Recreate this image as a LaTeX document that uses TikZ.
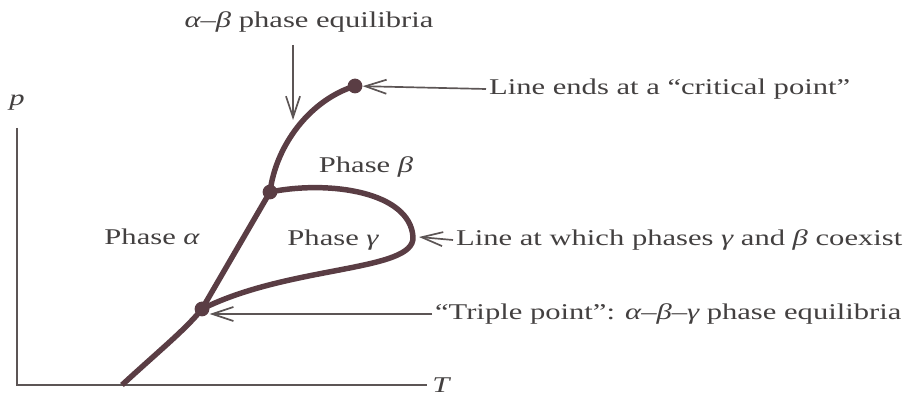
\documentclass[tikz,border=0pt]{standalone}
\usepackage{fontspec}
\setmainfont{Liberation Serif}[FakeStretch=1.36]
\usetikzlibrary{arrows.meta}
\definecolor{curvecol}{HTML}{5A3D44}
\definecolor{inkcol}{HTML}{434040}
\definecolor{thincol}{HTML}{5C5555}
\newcommand{\gr}[1]{{\itshape #1}}
\begin{document}
\begin{tikzpicture}[x=0.025cm,y=-0.025cm,
	lbl/.style={text=inkcol,inner sep=2pt,font=\fontsize{16}{19}\selectfont},
	axis/.style={thincol,line width=1.2pt},
	ptr/.style={thincol,line width=1.2pt,-{Straight Barb[length=15pt,width=10pt]}},
	phaseline/.style={curvecol,line width=3.9pt,line join=round},
	dot/.style={circle,fill=curvecol,inner sep=0pt,minimum size=0.37cm}]
	\useasboundingbox (0,0) rectangle (915,398);
	
	% axes
	\coordinate (origin) at (17,385);
	\coordinate (ptop) at (17,128);
	\coordinate (tend) at (427,385);
	\draw[axis] (ptop)--(origin)--(tend);
	\node[lbl] (plbl) at (17,103) {\itshape p};
	\node[lbl] (tlbl) at (441,385) {\itshape T};
	
	% phase lines
	\coordinate (foot) at (122,385);
	\node[dot] (triple) at (202,309) {};
	\node[dot] (junc) at (270,192) {};
	\node[dot] (crit) at (355,86) {};
	\coordinate (loopright) at (413,237);
	\draw[phaseline] (foot) .. controls (160,350) and (185,330) .. (triple.center)--(junc.center);
	\draw[phaseline] (junc.center) .. controls (276,145) and (310,100) .. (crit.center);
	\draw[phaseline] (junc.center) .. controls (330,180) and (410,192) .. (loopright) .. controls (415,272) and (290,265) .. (triple.center);
	
	% phases
	\node[lbl] (alpha) at (152,237) {Phase \gr{α}};
	\node[lbl] (beta) at (366,167) {Phase \gr{β}};
	\node[lbl] (gamma) at (333,240) {Phase \gr{γ}};
	
	% labels and pointers
	\node[lbl] (ablbl) at (309,22) {\gr{α}–\gr{β} phase equilibria};
	\coordinate (abtip) at (293,120);
	\draw[ptr] (abtip |- 0,45)--(abtip);
	
	\node[lbl,anchor=west] (critlbl) at (486,89) {Line ends at a “critical point”};
	\draw[ptr] (critlbl.west)--(crit);
	
	\node[lbl,anchor=west] (gblbl) at (453,240) {Line at which phases \gr{γ} and \gr{β} coexist};
	\draw[ptr] (gblbl.west)--(loopright -| 419,0);
	
	\node[lbl,anchor=west] (tplbl) at (432,314) {“Triple point”: \gr{α}–\gr{β}–\gr{γ} phase equilibria};
	\draw[ptr] (tplbl.west)--(triple.east |- tplbl.west);
\end{tikzpicture}
\end{document}
